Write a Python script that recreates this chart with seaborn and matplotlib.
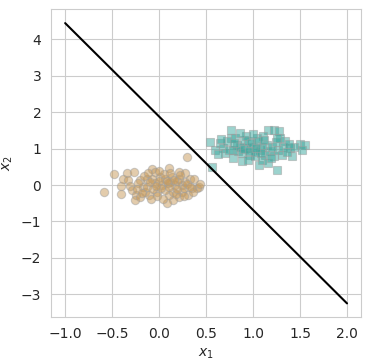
import matplotlib
matplotlib.use('Agg')
import pandas as pd
import matplotlib.pyplot as plt
import seaborn as sns

# class 0 (circles)
c0_x1 = [-0.59, -0.48, -0.41, -0.41, -0.34, -0.27, -0.38, -0.33, -0.31, -0.29, -0.20, -0.25, -0.26, -0.20,
         -0.17, -0.15, -0.13, 0.30, -0.08, 0.10, 0.21, 0.28, 0.33, 0.37, 0.42, 0.40, 0.35, 0.31, 0.21, 0.15,
         0.08, 0.10, -0.02, -0.11, -0.13, -0.04, 0.01, 0.06, 0.14, 0.12, 0.17, 0.24, 0.28, 0.03, -0.04, -0.08,
         0.06, 0.15, 0.24, 0.21, -0.22, -0.10, -0.06, 0.00, 0.02, 0.09, 0.11, 0.19, 0.26, 0.30, 0.05, -0.02,
         0.18, -0.16, 0.00, 0.12, 0.36, 0.44, -0.24, -0.09, 0.04, 0.22, -0.12, 0.16, -0.03, 0.08, 0.27, -0.18,
         0.33, 0.19]
c0_x2 = [-0.18, 0.30, -0.03, -0.25, 0.32, 0.37, 0.18, 0.14, -0.03, -0.14, 0.14, -0.27, -0.41, -0.32,
         -0.05, -0.18, 0.18, 0.78, 0.44, 0.48, 0.37, 0.32, 0.18, 0.18, -0.05, -0.09, -0.09, -0.27, -0.32, -0.41,
         -0.50, -0.27, -0.18, -0.27, -0.05, 0.37, 0.23, 0.18, 0.23, 0.09, 0.00, 0.00, 0.09, 0.00, 0.05, 0.18,
         -0.14, -0.18, -0.18, 0.18, 0.05, 0.08, -0.10, 0.12, -0.08, 0.05, -0.06, 0.10, -0.08, 0.02, 0.30, -0.30,
         -0.25, 0.26, 0.40, 0.33, -0.20, 0.02, -0.12, -0.38, -0.38, 0.27, 0.33, 0.14, -0.02, 0.12, -0.30, -0.22,
         -0.04, -0.10]

# class 1 (squares)
c1_x1 = [0.54, 0.56, 0.60, 0.65, 0.68, 0.70, 0.76, 0.77, 0.79, 0.83, 0.84, 0.88, 0.90, 0.93, 0.95, 0.97,
         0.74, 0.79, 0.86, 1.16, 1.22, 1.28, 1.06, 1.25, 1.22, 1.41, 1.50, 1.55, 1.52, 1.39, 1.34, 1.29,
         1.11, 1.04, 1.00, 1.07, 1.15, 1.18, 1.27, 1.31, 1.13, 1.02, 1.32, 0.72, 0.81, 0.88, 0.92, 0.98,
         1.02, 1.05, 1.09, 1.12, 1.20, 1.24, 1.36, 1.44, 0.63, 0.95, 1.10, 1.16, 0.86, 1.00, 1.26, 0.66,
         0.90, 1.08, 1.19, 1.38, 0.80, 0.96, 1.03]
c1_x2 = [1.18, 0.51, 0.97, 1.15, 1.02, 0.88, 1.29, 1.52, 0.74, 1.11, 0.93, 0.65, 1.24, 1.02, 1.20, 0.83,
         0.97, 0.97, 1.06, 1.52, 1.52, 1.49, 0.56, 0.42, 0.79, 0.80, 1.13, 1.11, 0.97, 1.02, 1.20, 1.29,
         1.34, 1.29, 1.06, 0.97, 1.11, 0.93, 0.97, 0.83, 0.83, 0.79, 1.06, 1.20, 1.30, 0.88, 1.35, 1.15,
         0.92, 1.20, 1.05, 1.25, 1.05, 1.18, 0.92, 1.05, 0.85, 0.70, 0.70, 0.60, 1.42, 1.40, 1.30, 1.28,
         0.98, 0.88, 0.75, 1.12, 1.15, 0.95, 1.02]

# decision boundary end points
line_x1 = [-1.0, 2.0]
line_x2 = [4.45, -3.25]

sns.set_style('whitegrid')
fig = plt.figure(figsize=(3.7, 3.64), dpi=100)
ax = fig.add_axes([0.138, 0.128, 0.838, 0.847])

df0 = pd.DataFrame({'x1': c0_x1, 'x2': c0_x2})
df1 = pd.DataFrame({'x1': c1_x1, 'x2': c1_x2})
sns.scatterplot(data=df0, x='x1', y='x2', marker='o', color='#c89b5a', alpha=0.5,
                edgecolor='#a0a0a0', linewidth=0.8, s=36, ax=ax)
sns.scatterplot(data=df1, x='x1', y='x2', marker='s', color='#3aa89e', alpha=0.5,
                edgecolor='#a0a0a0', linewidth=0.8, s=36, ax=ax)
ax.plot(line_x1, line_x2, color='black', lw=1.5)

ax.set_xlabel('$x_1$')
ax.set_ylabel('$x_2$')

fig.savefig('out.png', dpi=100)
